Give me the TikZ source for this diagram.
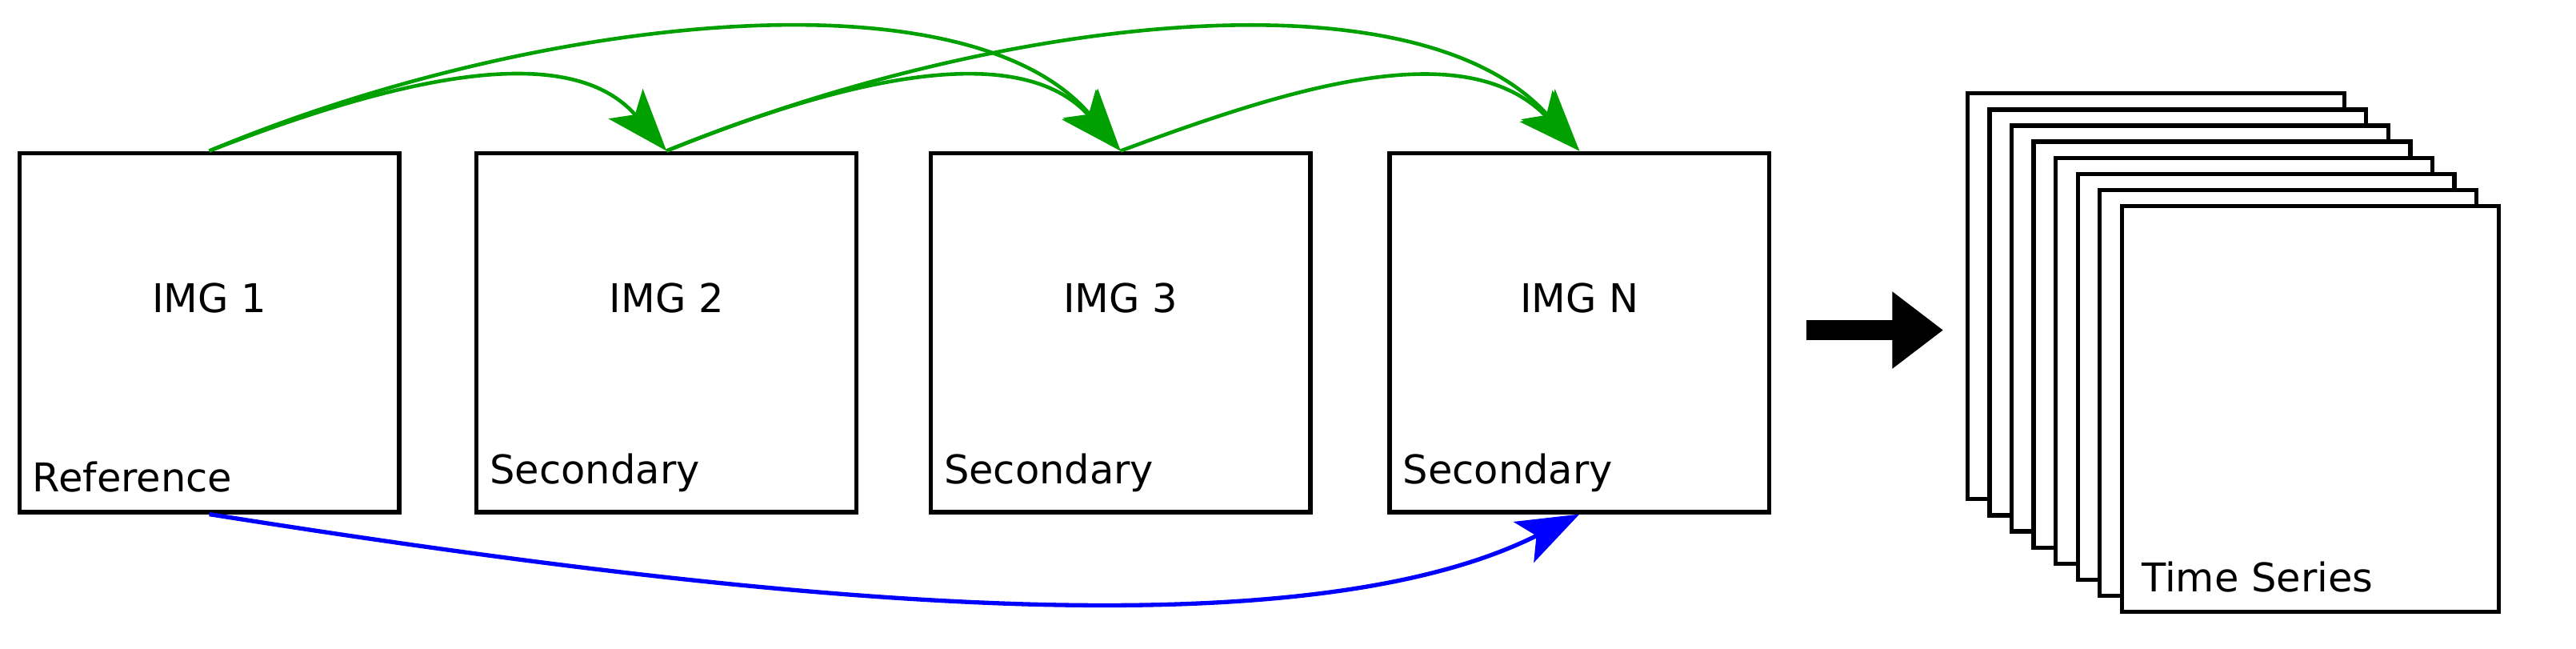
\documentclass[tikz,border=0pt]{standalone}
\usepackage{fontspec}
\setmainfont{DejaVu Sans}
\usetikzlibrary{arrows.meta}
\begin{document}
\begin{tikzpicture}[x=0.02cm,y=-0.02cm,
  img/.style={draw,line width=1.5pt,fill=white,minimum width=4.72cm,minimum height=4.46cm,inner sep=0pt},
  lbl/.style={font=\fontsize{14}{16}\selectfont,anchor=south west,inner sep=0pt},
  ttl/.style={font=\fontsize{14}{16}\selectfont},
  garr/.style={draw={rgb,255:red,0;green,160;blue,0},line width=1.3pt,-{Stealth[length=22pt,width=16pt,inset=5pt]}},
  barr/.style={draw=blue,line width=1.5pt,-{Stealth[length=22pt,width=16pt,inset=5pt]}}]
\useasboundingbox (0,0) rectangle (1600,402.5);
\node[img] (b1) at (130,206.5) {};
\node[img] (b2) at (414,206.5) {};
\node[img] (b3) at (696,206.5) {};
\node[img] (b4) at (981,206.5) {};
\node[ttl] (t1) at (130,185) {IMG 1};
\node[ttl] (t2) at (414,185) {IMG 2};
\node[ttl] (t3) at (696,185) {IMG 3};
\node[ttl] (t4) at (981,185) {IMG N};
\node[lbl] (l1) at (20,306) {Reference};
\node[lbl] (l2) at (304,306) {Secondary};
\node[lbl] (l3) at (586,306) {Secondary};
\node[lbl] (l4) at (871,306) {Secondary};
\foreach \i in {0,...,7}{
  \node[draw,line width=1.5pt,fill=white,minimum width=4.68cm,minimum height=5.04cm,inner sep=0pt] (s\i) at ({1339+13.7*\i},{184+10*\i}) {};
}
\node[lbl] (ts) at (1330,368) {Time Series};
\coordinate (ar1) at (1122,205);
\coordinate (ar2) at (1207,205);
\draw[line width=7pt,-{Triangle[length=18pt,width=26pt]}] (ar1) -- (ar2);
\draw[garr] (b1.north) .. controls (230,55) and (350,20) .. (b2.north);
\draw[garr] (b1.north) .. controls (330,10) and (600,-20) .. (b3.north);
\draw[garr] (b2.north) .. controls (510,55) and (630,20) .. (b3.north);
\draw[garr] (b2.north) .. controls (620,10) and (880,-20) .. (b4.north);
\draw[garr] (b3.north) .. controls (800,55) and (910,20) .. (b4.north);
\draw[barr] (b1.south) .. controls (450,370) and (800,410) .. (b4.south);
\end{tikzpicture}
\end{document}
